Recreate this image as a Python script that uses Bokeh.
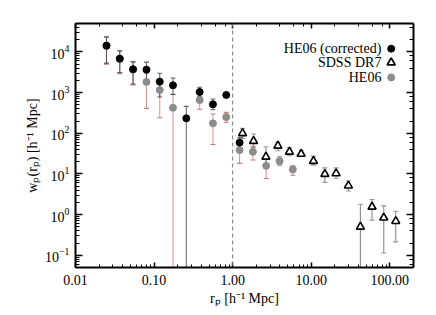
import numpy as np
from bokeh.plotting import figure
from bokeh.models import (LogAxis, LogTicker, PrintfTickFormatter, Span, Label,
                          CustomJSTickFormatter)
from bokeh.embed import file_html
from bokeh.resources import INLINE

# ---------------- data ----------------
# HE06 (corrected)
x_corr = [0.0248, 0.0366, 0.054, 0.080, 0.118, 0.174, 0.257, 0.380, 0.561, 0.829, 1.225]
w_corr = [14300, 6840, 3750, 3670, 1860, 1510, 233, 1035, 515, 873, 58.9]
corr_lo = [5300, 3100, 1630, 2000, 780, 900, 1e-3, 800, 380, 800, 42]
corr_hi = [23600, 10700, 5750, 5600, 2990, 2290, 457, 1350, 695, 950, 78]

# HE06 (uncorrected)
x_he = [0.0248, 0.0366, 0.054, 0.080, 0.118, 0.174, 0.380, 0.561, 0.829, 1.225, 1.81, 2.67, 3.95, 5.83]
w_he = [14000, 6700, 3700, 1830, 1160, 425, 657, 175, 250, 38.6, 35, 15.8, 20.7, 12.9]
he_lo = [5000, 2900, 1550, 410, 240, 1e-3, 388, 53, 186, 18.2, 22, 7.7, 16.5, 9.3]
he_hi = [23000, 10500, 5700, 3000, 1800, 908, 900, 297, 327, 55, 48, 24, 26.4, 15.8]

# SDSS DR7
x_sdss = [1.336, 1.844, 2.65, 3.76, 5.28, 7.44, 10.67, 14.9, 20.7, 29.7, 42.2, 59.4, 83.7, 118.9]
w_sdss = [99.6, 64.3, 26.4, 49.2, 35, 31, 20.7, 9.9, 10.3, 5.15, 0.50, 1.55, 0.84, 0.69]
sdss_lo = [75, 45, 15, 37, 28, 27.5, 16.5, 6.2, 7.7, 3.8, 1e-3, 0.73, 0.114, 0.213]
sdss_hi = [132, 95.6, 46.5, 59.7, 44, 38, 27.4, 14.1, 14.1, 6.8, 1.8, 2.35, 1.64, 1.21]

legend_labels = ["HE06 (corrected)", "SDSS DR7", "HE06"]

X_RANGE = (0.01, 200)
Y_RANGE = (0.05, 5e4)
FONT = "Liberation Serif"

p = figure(x_axis_type="log", y_axis_type="log", x_range=X_RANGE, y_range=Y_RANGE,
           frame_width=338, frame_height=244, output_backend="svg", toolbar_location=None,
           min_border_left=75, min_border_top=23, min_border_right=15, min_border_bottom=40,
           background_fill_color="white", border_fill_color="white")
p.grid.visible = False
p.outline_line_color = None

def errbars(x, lo, hi, line_color, cap_color, alpha=1.0, lw=1.1):
    p.segment(x0=x, y0=lo, x1=x, y1=hi, line_color=line_color, line_width=lw, line_alpha=alpha)
    p.scatter(x, lo, marker="dash", size=5, line_color=cap_color, line_width=1.1, line_alpha=alpha)
    p.scatter(x, hi, marker="dash", size=5, line_color=cap_color, line_width=1.1, line_alpha=alpha)

# vertical dashed line at 1 Mpc
p.add_layout(Span(location=1.0, dimension="height", line_color="#777777",
                  line_dash="4 3", line_width=1))

# HE06 uncorrected (gray points with red error bars)
errbars(x_he, he_lo, he_hi, "#d89a9a", "#c87878")
# SDSS error bars
errbars(x_sdss, sdss_lo, sdss_hi, "#8a8a8a", "#999999")
# HE06 corrected error bars
errbars(x_corr, corr_lo, corr_hi, "#383838", "#383838", alpha=0.75)

p.scatter(x_he, w_he, marker="circle", size=7, fill_color="#8c8c8c", line_color="#8c8c8c")
p.scatter(x_corr, w_corr, marker="circle", size=7, fill_color="black", line_color="black")
p.scatter(x_sdss, w_sdss, marker="triangle", size=8, fill_color="white",
          line_color="black", line_width=1.6)

# ---- axes styling ----
def style(ax, maj, mnr):
    ax.axis_line_width = 2
    ax.axis_line_color = "black"
    ax.major_tick_in = maj
    ax.major_tick_out = 0
    ax.minor_tick_in = mnr
    ax.minor_tick_out = 0
    ax.major_tick_line_width = 1.5
    ax.minor_tick_line_width = 1
    ax.major_tick_line_color = "black"
    ax.minor_tick_line_color = "black"
    ax.major_label_text_font = FONT
    ax.major_label_text_font_size = "14px"
    ax.major_label_text_color = "black"
    ax.axis_label_text_font = FONT
    ax.axis_label_text_font_size = "14px"
    ax.axis_label_text_font_style = "normal"
    ax.axis_label_text_color = "black"

xa = p.xaxis[0]
ya = p.yaxis[0]
xa.formatter = PrintfTickFormatter(format="%.2f")
style(xa, 5, 3)
style(ya, 7, 4)
xa.major_label_standoff = 7
xa.axis_label = "rₚ [h⁻¹ Mpc]"
xa.axis_label_standoff = 3
ya.axis_label = "wₚ(rₚ) [h⁻¹ Mpc]"
ya.major_label_standoff = 6
ya.axis_label_standoff = 2

blank = CustomJSTickFormatter(code="return '';")
top = LogAxis(ticker=LogTicker(), formatter=blank, major_label_text_font_size="0px",
              major_label_standoff=0)
right = LogAxis(ticker=LogTicker(), formatter=blank, major_label_text_font_size="0px",
                major_label_standoff=0)
style(top, 5, 3)
style(right, 7, 4)
top.major_label_text_font_size = "0px"
right.major_label_text_font_size = "0px"
p.add_layout(top, "above")
p.add_layout(right, "right")

# ---- legend (text right-aligned, marker to the right) ----
lx0, lx1 = np.log10(X_RANGE[0]), np.log10(X_RANGE[1])
ly0, ly1 = np.log10(Y_RANGE[0]), np.log10(Y_RANGE[1])
def fx(f):
    return 10 ** (lx0 + f * (lx1 - lx0))
def fy(f_from_top):
    return 10 ** (ly1 - f_from_top * (ly1 - ly0))

rows = [0.103, 0.160, 0.221]
mark_x = fx(0.934)
for lab, r in zip(legend_labels, rows):
    p.add_layout(Label(x=fx(0.905), y=fy(r), text=lab, text_align="right",
                       text_baseline="middle", text_font=FONT, text_font_size="14px",
                       text_color="black"))
p.scatter([mark_x], [fy(rows[0])], marker="circle", size=7, fill_color="black", line_color="black")
p.scatter([mark_x], [fy(rows[1])], marker="triangle", size=8, fill_color="white",
          line_color="black", line_width=1.8)
p.scatter([mark_x], [fy(rows[2])], marker="circle", size=7, fill_color="#8c8c8c", line_color="#8c8c8c")

open("out.html", "w").write(file_html(p, INLINE))
